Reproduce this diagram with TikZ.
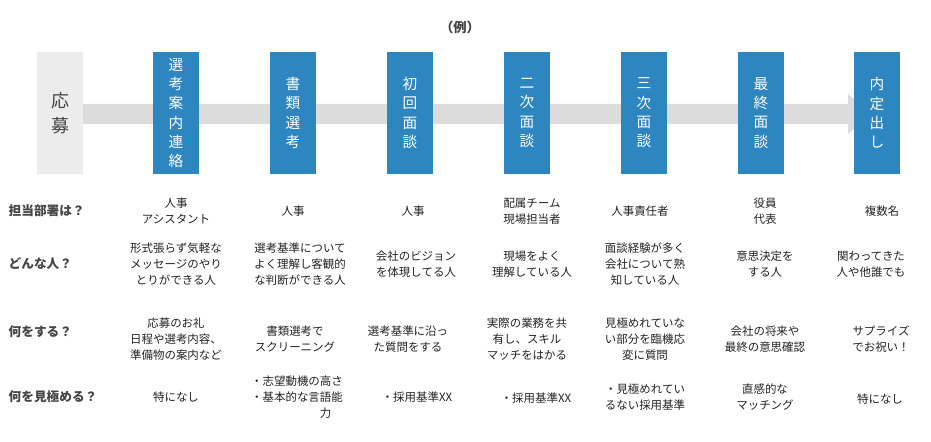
\documentclass[tikz,border=0pt]{standalone}
\usepackage{fontspec}
\setmainfont{Noto Sans CJK JP}
\begin{document}
\begin{tikzpicture}[x=0.75pt,y=-0.75pt,
  stage/.style={fill=blue2,minimum width=34.5pt,minimum height=91.5pt,inner sep=0pt,text=white,font=\fontsize{11}{14.5}\selectfont,align=center},
  lab/.style={anchor=west,text=labc,font=\bfseries\fontsize{9.5}{12}\selectfont},
  cell/.style={align=center,text=txt,font=\fontsize{8.6}{12}\selectfont,inner sep=0pt}]
\definecolor{blue2}{HTML}{2E86C1}
\definecolor{labc}{HTML}{444444}
\definecolor{txt}{HTML}{222222}
\definecolor{arr}{HTML}{DCDCDC}
\useasboundingbox (0,0) rectangle (931,442);
\node[text=labc,font=\bfseries\fontsize{10}{12}\selectfont] (title) at (460,27) {（例）};
\fill[arr] (83,104) -- (848,104) -- (848,94) -- (872,114) -- (848,134) -- (848,124) -- (83,124) -- cycle;
\node[fill=arr!55,minimum width=34.5pt,minimum height=91.5pt,inner sep=0pt,text=labc,font=\fontsize{13.5}{19}\selectfont,align=center] (s0) at (60,113) {応\\募};
\foreach \n/\x/\t in {1/176/選\\考\\案\\内\\連\\絡,2/293/書\\類\\選\\考,3/410/初\\回\\面\\談,4/527/二\\次\\面\\談,5/644/三\\次\\面\\談,6/761/最\\終\\面\\談,7/877/内\\定\\出\\し}
  \node[stage] (s\n) at (\x,113) {\t};
\node[lab] (r1) at (4,211) {担当部署は？};
\node[lab] (r2) at (4,264) {どんな人？};
\node[lab] (r3) at (4,332) {何をする？};
\node[lab] (r4) at (4,397) {何を見極める？};
% row 1
\node[cell] (a1) at (176,211) {人事\\アシスタント};
\node[cell] (a2) at (293,211) {人事};
\node[cell] (a3) at (413,211) {人事};
\node[cell] (a4) at (532,211) {配属チーム\\現場担当者};
\node[cell] (a5) at (640,211) {人事責任者};
\node[cell] (a6) at (765,211) {役員\\代表};
\node[cell] (a7) at (882,211) {複数名};
% row 2
\node[cell] (b1) at (176,264) {形式張らず気軽な\\メッセージのやり\\とりができる人};
\node[cell] (b2) at (300,264) {選考基準について\\よく理解し客観的\\な判断ができる人};
\node[cell] (b3) at (416,264) {会社のビジョン\\を体現してる人};
\node[cell] (b4) at (532,264) {現場をよく\\理解している人};
\node[cell] (b5) at (645,264) {面談経験が多く\\会社について熟\\知している人};
\node[cell] (b6) at (765,264) {意思決定を\\する人};
\node[cell] (b7) at (871,264) {関わってきた\\人や他誰でも};
% row 3
\node[cell] (c1) at (176,339) {応募のお礼\\日程や選考内容、\\準備物の案内など};
\node[cell] (c2) at (295,339) {書類選考で\\スクリーニング};
\node[cell] (c3) at (408,339) {選考基準に沿っ\\た質問をする};
\node[cell] (c4) at (527,339) {実際の業務を共\\有し、スキル\\マッチをはかる};
\node[cell] (c5) at (645,339) {見極めれていな\\い部分を臨機応\\変に質問};
\node[cell] (c6) at (765,339) {会社の将来や\\最終の意思確認};
\node[cell] (c7) at (881,339) {サプライズ\\でお祝い！};
% row 4
\node[cell] (d1) at (176,397) {特になし};
\node[cell,align=left] (d2) at (297,397) {・志望動機の高さ\\・基本的な言語能\\\hphantom{・基本的な言}力};
\node[cell] (d3) at (417,397) {・採用基準XX};
\node[cell] (d4) at (536,398) {・採用基準XX};
\node[cell] (d5) at (645,397) {・見極めれてい\\るない採用基準};
\node[cell] (d6) at (765,397) {直感的な\\マッチング};
\node[cell] (d7) at (880,399) {特になし};
\end{tikzpicture}
\end{document}
